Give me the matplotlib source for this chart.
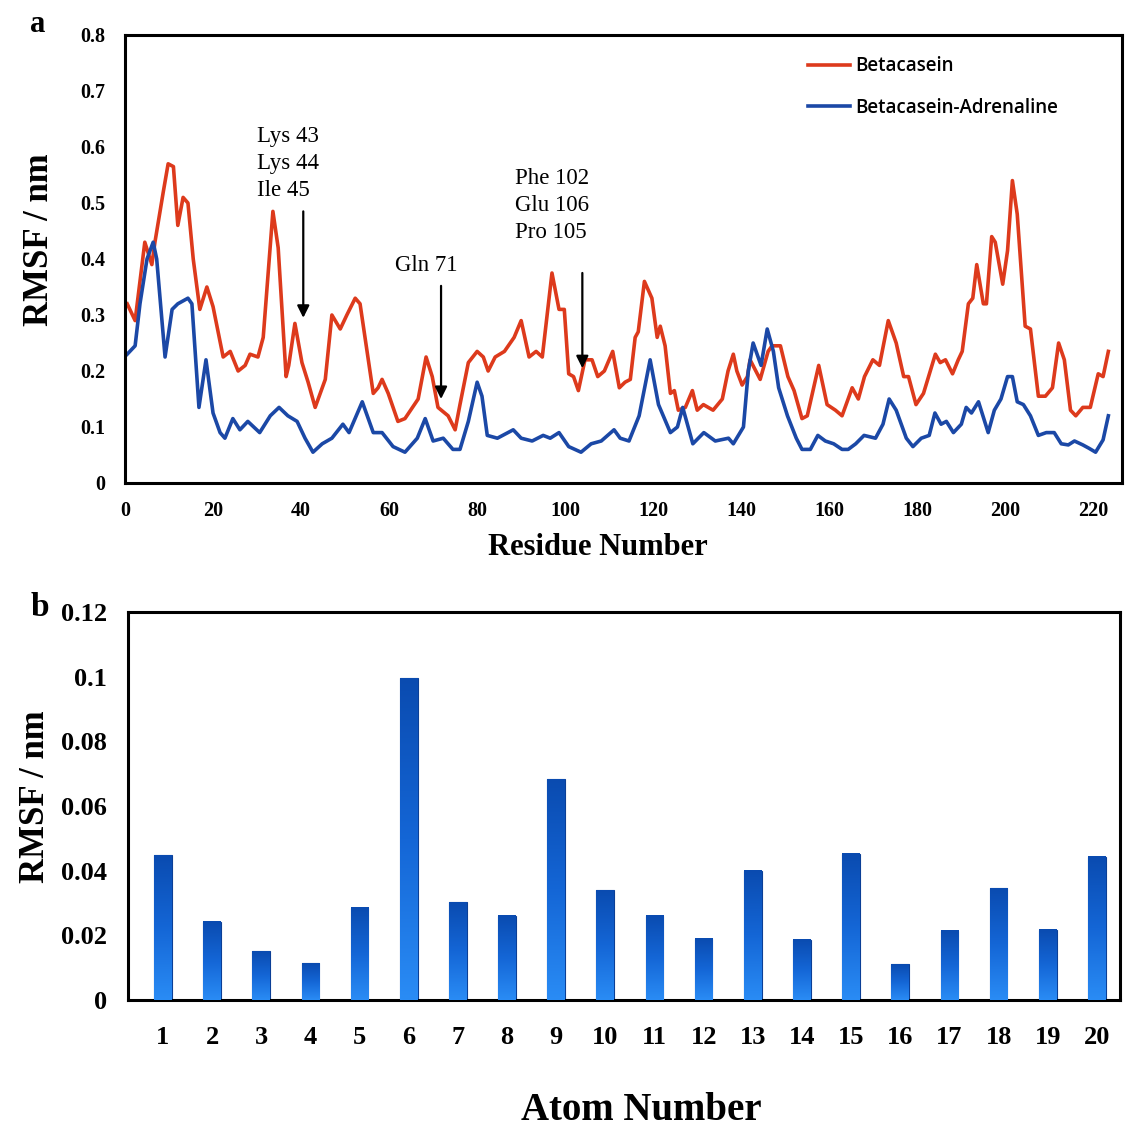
import matplotlib
matplotlib.use('Agg')
import matplotlib.pyplot as plt
import numpy as np
from matplotlib.colors import LinearSegmentedColormap

# ---------------- data ----------------
beta_res = [0.5, 2.3, 4.5, 6.1, 6.8, 8.7, 9.8, 11, 12, 13.2, 14.3, 15.5, 17, 18.6, 20, 22.3, 23.9, 25.7,
            27.3, 28.4, 30.2, 31.4, 33.6, 34.8, 36.6, 37.2, 38.6, 40.2, 41.6, 43.2, 45.5, 47, 48.9, 50.4,
            52.3, 53.4, 54.9, 56.4, 57.5, 58.4, 59.8, 62, 63.6, 66.6, 68.4, 69.8, 71.1, 73.4, 75, 76.1,
            78, 80, 81.4, 82.5, 84.1, 86.2, 88.4, 90, 91.8, 93.4, 94.8, 97, 98.6, 99.8, 100.8, 101.9, 103,
            104.5, 106.1, 107.4, 108.9, 110.8, 112.3, 113.6, 114.8, 115.9, 116.6, 118, 119.7, 120.9, 121.6,
            122.7, 123.9, 124.8, 125.7, 127.3, 128.9, 130, 131.4, 133.6, 135.7, 137, 138.2, 139, 140.2,
            141.4, 142, 144.3, 146.1, 147, 148.9, 150.6, 152, 153.8, 155, 157.6, 159.5, 161.4, 162.9,
            165.2, 166.6, 168, 169.9, 171.4, 173.4, 175.2, 176.9, 178, 179.7, 181.4, 184.1, 185.2, 186.4,
            188, 189.3, 190.2, 191.6, 192.6, 193.5, 195, 195.7, 196.9, 197.7, 199.4, 200.5, 201.6, 202.7,
            204.5, 205.7, 207.5, 209.1, 210.7, 212.1, 213.4, 214.8, 216, 217.6, 219.3, 221.1, 222.2, 223.4]
beta_rmsf = [0.32, 0.29, 0.43, 0.39, 0.43, 0.52, 0.57, 0.565, 0.46, 0.51, 0.50, 0.40, 0.31, 0.35, 0.315,
             0.225, 0.235, 0.20, 0.21, 0.23, 0.225, 0.26, 0.485, 0.42, 0.19, 0.21, 0.285, 0.215, 0.18,
             0.135, 0.185, 0.30, 0.275, 0.30, 0.33, 0.32, 0.24, 0.16, 0.17, 0.185, 0.16, 0.11, 0.115,
             0.15, 0.225, 0.19, 0.135, 0.12, 0.095, 0.14, 0.215, 0.235, 0.225, 0.20, 0.225, 0.235, 0.26,
             0.29, 0.225, 0.235, 0.225, 0.375, 0.31, 0.31, 0.195, 0.19, 0.165, 0.22, 0.22, 0.19, 0.20,
             0.235, 0.17, 0.18, 0.185, 0.26, 0.27, 0.36, 0.33, 0.26, 0.28, 0.245, 0.16, 0.165, 0.13,
             0.135, 0.165, 0.13, 0.14, 0.13, 0.15, 0.20, 0.23, 0.20, 0.175, 0.19, 0.22, 0.185, 0.235,
             0.245, 0.245, 0.19, 0.165, 0.115, 0.12, 0.21, 0.14, 0.13, 0.12, 0.17, 0.15, 0.19, 0.22,
             0.21, 0.29, 0.25, 0.19, 0.19, 0.14, 0.16, 0.23, 0.215, 0.22, 0.195, 0.22, 0.235, 0.32, 0.33,
             0.39, 0.32, 0.32, 0.44, 0.43, 0.355, 0.415, 0.54, 0.48, 0.28, 0.275, 0.155, 0.155, 0.17,
             0.25, 0.22, 0.13, 0.12, 0.135, 0.135, 0.195, 0.19, 0.235]

adr_res = [0.5, 2.3, 3.4, 5, 6.4, 7.2, 9.1, 10.7, 12, 14.3, 15.2, 16.8, 18.4, 20, 21.6, 22.7, 24.5, 26.1,
           27.9, 30.6, 33, 35, 37, 39.1, 40.9, 42.7, 44.8, 47, 49.5, 50.9, 53.9, 56.4, 58.4, 60.9, 63.6,
           66.4, 68.2, 70, 72.3, 74.5, 76.1, 78, 80, 81.1, 82.3, 84.6, 88.2, 90, 92.5, 95, 96.6, 98.6,
           100.8, 103.6, 105.9, 108.2, 111.1, 112.5, 114.5, 116.8, 119.3, 121.2, 123.9, 125.5, 126.7, 129,
           131.5, 134.1, 137.1, 138.2, 140.5, 141.6, 142.7, 144.5, 145.9, 147.3, 148.5, 150.5, 152.5,
           153.8, 155.7, 157.4, 159.1, 161, 162.9, 164.3, 166, 167.9, 170.5, 172.2, 173.6, 175.2, 177.5,
           179, 180.9, 182.7, 184, 185.4, 186.6, 188.2, 190, 191.1, 192.3, 193.9, 194.5, 196.1, 197.5,
           199, 200.5, 201.6, 202.7, 204.1, 205.7, 207.5, 209.3, 211.1, 212.7, 214.3, 215.7, 217.6, 219,
           220.5, 222.2, 223.4]
adr_rmsf = [0.23, 0.245, 0.32, 0.40, 0.43, 0.40, 0.225, 0.31, 0.32, 0.33, 0.32, 0.135, 0.22, 0.125,
            0.09, 0.08, 0.115, 0.095, 0.11, 0.09, 0.12, 0.135, 0.12, 0.11, 0.08, 0.055, 0.07, 0.08, 0.105,
            0.09, 0.145, 0.09, 0.09, 0.065, 0.055, 0.08, 0.115, 0.075, 0.08, 0.06, 0.06, 0.11, 0.18, 0.155,
            0.085, 0.08, 0.095, 0.08, 0.075, 0.085, 0.08, 0.09, 0.065, 0.055, 0.07, 0.075, 0.095, 0.08,
            0.075, 0.12, 0.22, 0.14, 0.09, 0.10, 0.135, 0.07, 0.09, 0.075, 0.08, 0.07, 0.10, 0.20, 0.25,
            0.21, 0.275, 0.235, 0.17, 0.12, 0.08, 0.06, 0.06, 0.085, 0.075, 0.07, 0.06, 0.06, 0.07, 0.085,
            0.08, 0.105, 0.15, 0.13, 0.08, 0.065, 0.08, 0.085, 0.125, 0.105, 0.11, 0.09, 0.105, 0.135,
            0.125, 0.145, 0.13, 0.09, 0.13, 0.15, 0.19, 0.19, 0.145, 0.14, 0.12, 0.085, 0.09, 0.09, 0.07,
            0.068, 0.075, 0.068, 0.062, 0.055, 0.077, 0.12]

series_labels = ["Betacasein", "Betacasein-Adrenaline"]

atom_numbers = list(range(1, 21))
atom_rmsf = [0.0447, 0.0242, 0.0151, 0.0113, 0.0285, 0.0995, 0.0303, 0.0261, 0.0683, 0.0340,
             0.0260, 0.0190, 0.0400, 0.0187, 0.0453, 0.0111, 0.0214, 0.0345, 0.0218, 0.0443]

annot_texts = ["Lys 43\nLys 44\nIle 45", "Gln 71", "Phe 102\nGlu 106\nPro 105"]
annot_x = [40.5, 71.8, 103.9]

# ---------------- figure ----------------
W, H = 1125, 1129
fig = plt.figure(figsize=(W / 100, H / 100), dpi=100)
SERIF = ['Liberation Serif', 'DejaVu Serif']
SANS = ['Open Sans', 'DejaVu Sans']


def fx(px):
    return px / W


def fy(py):
    return 1 - py / H


# ---- panel a ----
ax1 = fig.add_axes([fx(125), fy(483), fx(1122) - fx(125), fy(35) - fy(483)])
ax1.plot(beta_res, beta_rmsf, color='#dd3a1c', lw=2.6, label=series_labels[0], solid_joinstyle='round')
ax1.plot(adr_res, adr_rmsf, color='#1b48a6', lw=2.6, label=series_labels[1], solid_joinstyle='round')
ax1.set_xlim(0, 226.5)
ax1.set_ylim(0, 0.8)
ax1.set_xticks(np.arange(0, 221, 20))
ax1.set_yticks(np.arange(0, 0.81, 0.1))
ax1.set_yticklabels(['0'] + ['%.1f' % v for v in np.arange(0.1, 0.81, 0.1)])
ax1.tick_params(length=0)
ax1.tick_params(axis='x', pad=13)
ax1.tick_params(axis='y', pad=14)
for lab in ax1.get_xticklabels() + ax1.get_yticklabels():
    lab.set_fontfamily(SERIF)
    lab.set_fontweight('bold')
    lab.set_fontsize(14.5)
for s in ax1.spines.values():
    s.set_linewidth(2.2)

fig.text(fx(598), fy(548), 'Residue Number', fontfamily=SERIF, fontweight='bold', fontsize=22,
         ha='center', va='center')
fig.text(fx(40), fy(240), 'RMSF / nm', fontfamily=SERIF, fontweight='bold', fontsize=25,
         ha='center', va='center', rotation=90)

leg = ax1.legend(loc='upper left', bbox_to_anchor=(0.668, 0.99), frameon=False,
                 prop={'family': SANS, 'weight': 'semibold', 'size': 13.5},
                 handlelength=2.25, handletextpad=0.27, labelspacing=1.15)

# annotations
text_pos = [(30.0, 0.57), (61.4, 0.389), (88.6, 0.496)]
arrow_y = [(0.49, 0.29), (0.357, 0.145), (0.38, 0.2)]
for t, x, (tx, ty), (y0, y1) in zip(annot_texts, annot_x, text_pos, arrow_y):
    ax1.text(tx, ty, t, fontfamily=SERIF, fontsize=16.5, ha='left', va='center', linespacing=1.38)
    ax1.annotate('', xy=(x, y1), xytext=(x, y0),
                 arrowprops=dict(arrowstyle='-|>', color='black', lw=1.6, mutation_scale=18))

fig.text(fx(38), fy(25), 'a', fontfamily=SERIF, fontweight='bold', fontsize=22, ha='center', va='center')

# ---- panel b ----
ax2 = fig.add_axes([fx(128), fy(1000), fx(1120) - fx(128), fy(612) - fy(1000)])
bars = ax2.bar(atom_numbers, atom_rmsf, width=0.36, color='#1565d0', edgecolor='#0b3f96', linewidth=0.8,
               zorder=2)
cmap = LinearSegmentedColormap.from_list('g', ['#0a4bb0', '#1466d6', '#2a8cf5'])
grad = np.linspace(0, 1, 256).reshape(-1, 1)
for b in bars:
    x0, y0 = b.get_x(), b.get_y()
    ax2.imshow(grad, cmap=cmap, aspect='auto', origin='upper',
               extent=(x0, x0 + b.get_width(), y0, y0 + b.get_height()), zorder=3)
ax2.set_xlim(0.29, 20.47)
ax2.set_ylim(0, 0.12)
ax2.set_xticks(atom_numbers)
ax2.set_yticks(np.arange(0, 0.121, 0.02))
ax2.set_yticklabels(['0', '0.02', '0.04', '0.06', '0.08', '0.1', '0.12'])
ax2.tick_params(length=0)
ax2.tick_params(axis='x', pad=19)
ax2.tick_params(axis='y', pad=15)
for lab in ax2.get_xticklabels() + ax2.get_yticklabels():
    lab.set_fontfamily(SERIF)
    lab.set_fontweight('bold')
    lab.set_fontsize(19)
for s in ax2.spines.values():
    s.set_linewidth(2.2)

fig.text(fx(641), fy(1111), 'Atom Number', fontfamily=SERIF, fontweight='bold', fontsize=28,
         ha='center', va='center')
fig.text(fx(35), fy(797), 'RMSF / nm', fontfamily=SERIF, fontweight='bold', fontsize=25,
         ha='center', va='center', rotation=90)

fig.text(fx(40), fy(607), 'b', fontfamily=SERIF, fontweight='bold', fontsize=24, ha='center', va='center')

fig.savefig('out.png', dpi=100)
